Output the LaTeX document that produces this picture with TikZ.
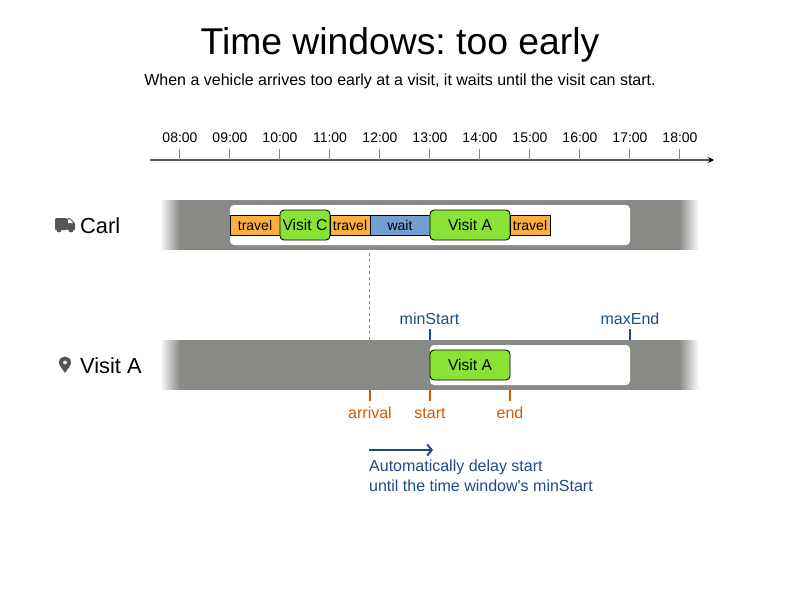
\documentclass[tikz,border=0pt]{standalone}
\usepackage{fontspec}
\setmainfont{Liberation Sans}
\usetikzlibrary{positioning}
\usetikzlibrary{arrows.meta}
\definecolor{bandgray}{HTML}{888A85}
\definecolor{iconGray}{HTML}{555753}
\definecolor{travelOrange}{HTML}{FCAF3E}
\definecolor{visitGreen}{HTML}{8AE234}
\definecolor{waitBlue}{HTML}{729FCF}
\definecolor{windowBlue}{HTML}{204A87}
\definecolor{pinOrange}{HTML}{CE5C00}
\newcommand{\px}[1]{\fontsize{#1}{#1}\selectfont}
\tikzset{
  block/.style={draw=black,line width=0.9pt,minimum height=20pt,inner sep=0pt,outer sep=0pt,font=\px{14}},
  travelbox/.style={block,fill=travelOrange,minimum width=#1},
  waitbox/.style={block,fill=waitBlue,minimum width=#1},
  visitbox/.style={block,fill=visitGreen,rounded corners=4pt,minimum height=30pt,minimum width=#1,font=\px{15.6}},
  hourlabel/.style={font=\px{14},inner sep=0pt},
  rowlabel/.style={anchor=west,inner sep=0pt,font=\px{21.8}},
  bluelabel/.style={text=windowBlue,font=\px{16},inner sep=0pt},
  orangelabel/.style={text=pinOrange,font=\px{16},inner sep=0pt},
  bluetick/.style={draw=windowBlue,line width=1.3pt},
  orangetick/.style={draw=pinOrange,line width=1.3pt}
}
\begin{document}
\frenchspacing
\begin{tikzpicture}[>=stealth,x=1pt,y=-1pt]
  \useasboundingbox (0,0) rectangle (800,600);
  \node (title) at (400,44.5) {\px{37.3}Time windows: too early};
  \node (subtitle) at (400,81) {\px{16}When a vehicle arrives too early at a visit, it waits until the visit can start.};
  % time axis
  \coordinate (axisStart) at (150,160);
  \coordinate (axisEnd) at (714,160);
  \draw[-{Stealth[length=6pt,width=6pt,color=black]},draw=iconGray,line width=1.1pt] (axisStart) -- (axisEnd);
  \foreach \h [count=\i from 0] in {08,09,10,11,12,13,14,15,16,17,18} {
    \node[hourlabel] (hour\h) at ({180+50*\i},138) {\h:00};
    \draw[draw=bandgray,line width=1pt] ({179.5+50*\i},149) -- ({179.5+50*\i},160);
  }
  % bands
  \foreach \top in {200,340} {
    \fill[bandgray] (180,\top) rectangle (680,\top+50);
    \foreach \k [evaluate=\k as \mix using int(\k*5)] in {0,...,19} {
      \fill[bandgray!\mix!white] (160+\k,\top) rectangle (180,\top+50);
      \fill[bandgray!\mix!white] (700-\k,\top) rectangle (680,\top+50);
    }
  }
  \fill[white,rounded corners=4pt] (230,205) rectangle (630,245);
  \fill[white,rounded corners=4pt] (430,345) rectangle (630,385);
  % Carl
  \fill[iconGray,rounded corners=1pt] (55,218) -- (67,218) -- (67,230) -- (55,230) -- cycle;
  \fill[iconGray,rounded corners=1pt] (67,218) -- (70,218) -- (75,223) -- (75,230) -- (67,230) -- cycle;
  \fill[white] (68.2,219.3) -- (69.8,219.3) -- (73.3,223.2) -- (68.2,223.2) -- cycle;
  \fill[iconGray] (59,230) circle (2.4pt) (71,230) circle (2.4pt);
  \node[rowlabel] (carl) at (80,226) {Carl};
  \node[travelbox=50pt,anchor=west] (travel1) at (230,225) {travel};
  \node[visitbox=50pt,right=0pt of travel1] (visitC) {Visit C};
  \node[travelbox=40pt,right=0pt of visitC] (travel2) {travel};
  \node[waitbox=60pt,right=0pt of travel2] (wait) {wait};
  \node[visitbox=80pt,right=0pt of wait] (visitA) {Visit A};
  \node[travelbox=40pt,right=0pt of visitA] (travel3) {travel};
  % Visit A
  \fill[iconGray,even odd rule] (65,373) .. controls (62.5,369) and (59,366) .. (59,362.5) .. controls (59,354.5) and (71,354.5) .. (71,362.5) .. controls (71,366) and (67.5,369) .. (65,373) -- cycle
    (65,362.5) circle (2pt);
  \node[rowlabel] (visitRow) at (80,366) {Visit A};
  \node[visitbox=80pt] (visitB) at (470,365) {Visit A};
  % time window
  \coordinate (waitFoot) at (369.5,250);
  \coordinate (arrivalTop) at (369.5,340);
  \draw[draw=bandgray,dash pattern=on 3pt off 3pt,dash phase=3pt,line width=0.7pt] (waitFoot) -- (arrivalTop);
  \node[bluelabel] (minStart) at (429.5,319) {minStart};
  \node[bluelabel] (maxEnd) at (630,319) {maxEnd};
  \draw[bluetick] (430,329) -- (430,340);
  \draw[bluetick] (630,329) -- (630,340);
  \node[orangelabel] (arrival) at (370,413) {arrival};
  \node[orangelabel] (start) at (430,413) {start};
  \node[orangelabel] (end) at (510,413) {end};
  \draw[orangetick] (370,390) -- (370,401);
  \draw[orangetick] (430,390) -- (430,401);
  \draw[orangetick] (510,390) -- (510,401);
  \coordinate (delayStart) at (369,450);
  \coordinate (delayEnd) at (433,450);
  \draw[-{Straight Barb[length=4.5pt,width=11pt,line width=2pt]},draw=windowBlue,line width=1.4pt] (delayStart) -- (delayEnd);
  \node[text=windowBlue,anchor=north west,inner sep=0pt,align=left,font=\fontsize{16}{20}\selectfont] (delayText) at (369,459.5) {Automatically delay start\\until the time window\textquotesingle s minStart};
\end{tikzpicture}
\end{document}
